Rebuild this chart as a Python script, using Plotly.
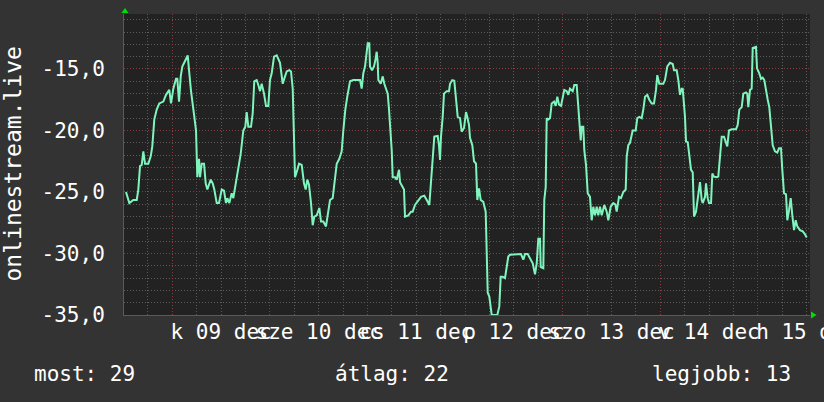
import plotly.graph_objects as go

# hours since 2025-12-09 00:00 (local)
hours = [
    -11.39, -10.57, -9.59, -8.75, -8.36, -7.94, -7.52, -7.13, -6.71, -5.90, -5.31, -4.92, -4.43, -3.84, -3.20,
    -2.21, -1.55, -0.74, -0.32, 0.25, 0.91, 1.23, 1.65, 2.07, 2.46, 3.12, 3.79, 4.11, 4.60, 5.34, 5.83, 6.15,
    6.57, 6.81, 7.23, 7.80, 8.21, 8.61, 9.10, 9.44, 9.93, 10.33, 10.92, 11.48, 12.15, 12.71, 13.20, 13.52, 14.02,
    14.61, 15.00, 15.42, 15.84, 16.23, 16.82, 17.46, 17.95, 18.29, 18.69, 19.35, 19.77, 20.16, 20.75, 21.15,
    21.57, 21.98, 22.55, 23.04, 23.61, 24.02, 24.44, 25.01, 25.67, 26.48, 27.15, 27.71, 28.13, 28.77, 29.19,
    29.61, 29.93, 30.17, 30.74, 31.16, 31.82, 32.38, 32.80, 33.20, 33.61, 34.11, 34.52, 34.92, 35.51, 36.15,
    36.57, 37.13, 37.79, 38.36, 38.78, 39.44, 40.01, 40.43, 41.07, 41.65, 42.05, 42.54, 43.03, 43.70, 44.51,
    46.16, 46.57, 46.97, 47.39, 47.63, 48.05, 48.44, 48.61, 49.11, 49.60, 49.92, 50.26, 50.51, 50.66, 51.25,
    51.74, 52.13, 52.55, 52.97, 53.29, 53.70, 53.95, 54.20, 54.76, 55.18, 55.75, 55.99, 56.56, 56.97, 57.22,
    58.03, 58.70, 59.11, 59.68, 60.34, 61.16, 61.97, 62.39, 62.80, 63.20, 63.54, 64.03, 64.43, 65.26, 65.58,
    65.83, 66.07, 66.49, 66.81, 67.47, 68.04, 68.29, 68.85, 69.34, 69.76, 70.18, 70.75, 71.16, 71.73, 72.22,
    72.54, 72.96, 73.20, 73.77, 74.19, 74.68, 75.00, 75.42, 75.84, 76.47, 77.06, 77.31, 77.56, 77.95, 78.29,
    78.54, 79.92, 80.41, 80.75, 81.24, 81.81, 82.23, 82.62, 83.04, 84.27, 85.75, 86.31, 86.73, 87.39, 87.96,
    88.62, 89.19, 89.61, 90.00, 90.42, 90.59, 91.23, 91.47, 91.82, 92.06, 92.46, 92.88, 93.29, 93.86, 94.28,
    94.67, 95.09, 95.58, 96.00, 96.39, 96.98, 97.38, 97.79, 98.46, 98.85, 99.44, 99.84, 100.25, 100.43, 100.67,
    101.06, 101.31, 101.73, 102.15, 102.71, 103.13, 103.52, 103.94, 104.36, 104.75, 105.17, 105.59, 106.23,
    106.82, 107.21, 107.80, 108.44, 108.93, 109.28, 109.84, 110.34, 110.90, 111.49, 111.74, 112.13, 112.55,
    113.21, 113.95, 114.34, 114.84, 115.42, 115.82, 116.24, 116.80, 117.29, 117.88, 118.45, 118.94, 119.26,
    119.75, 120.74, 121.15, 121.72, 122.38, 123.05, 123.37, 124.03, 124.43, 124.84, 125.26, 125.51, 125.83,
    126.07, 126.32, 126.74, 127.13, 127.55, 127.97, 128.29, 128.78, 129.20, 129.52, 129.76, 130.18, 130.43,
    130.99, 131.24, 131.65, 131.97, 132.47, 132.79, 133.20, 133.87, 134.26, 134.68, 135.10, 135.66, 136.08,
    136.47, 136.89, 137.56, 138.61, 139.03, 139.43, 140.02, 140.41, 141.07, 141.39, 141.64, 142.06, 142.47,
    142.72, 143.29, 143.53, 143.78, 144.34, 144.76, 145.18, 145.57, 145.99, 146.41, 146.80, 147.22, 147.64,
    148.20, 148.77, 149.19, 149.68, 150.00, 150.42, 150.91, 151.23, 151.65, 152.07, 152.46, 152.88, 153.30,
    153.69, 154.35, 155.02, 155.51, 156.00,
]

values = [
    -25.0, -25.9, -25.65, -25.65, -24.8, -22.9, -22.8, -21.7, -22.7, -22.7, -22.1, -21.3, -19.1, -18.3, -17.8,
    -17.65, -17.1, -16.7, -17.8, -16.6, -15.8, -15.8, -17.65, -15.6, -14.8, -14.4, -13.9, -15.1, -16.8, -18.7,
    -20.0, -23.8, -22.3, -23.8, -22.7, -22.7, -24.3, -24.8, -24.4, -24.0, -24.3, -24.8, -25.9, -25.9, -24.8,
    -24.9, -25.9, -25.5, -25.9, -25.1, -25.5, -24.6, -24.0, -22.9, -21.9, -20.0, -19.7, -18.5, -19.7, -19.7,
    -18.6, -16.0, -15.9, -16.3, -16.8, -16.2, -17.0, -18.0, -18.0, -15.9, -15.35, -14.0, -13.9, -14.5, -16.2,
    -15.6, -15.2, -15.1, -15.2, -16.6, -20.0, -23.8, -23.2, -22.7, -22.8, -24.3, -24.8, -24.0, -24.4, -25.9,
    -27.7, -27.0, -26.9, -26.3, -27.4, -27.4, -27.8, -26.5, -25.65, -25.5, -23.8, -22.7, -22.3, -21.7, -20.0,
    -18.3, -17.25, -16.0, -15.9, -15.9, -16.6, -15.35, -14.8, -14.0, -12.9, -12.9, -14.8, -15.1, -14.8, -14.3,
    -13.6, -14.5, -15.9, -16.2, -15.6, -16.2, -16.6, -17.0, -18.3, -20.0, -21.6, -23.8, -23.8, -24.0, -23.2,
    -24.2, -24.6, -24.8, -27.0, -26.9, -26.6, -26.6, -26.05, -25.8, -25.4, -25.3, -25.5, -25.8, -26.05, -24.6,
    -22.1, -20.5, -20.45, -21.2, -22.4, -20.5, -18.9, -17.0, -16.8, -16.8, -16.2, -15.9, -15.95, -17.65, -18.9,
    -19.0, -20.1, -19.8, -18.5, -18.9, -19.55, -20.6, -21.2, -22.5, -22.7, -25.65, -24.7, -25.65, -25.8, -26.6,
    -29.2, -33.2, -33.5, -34.3, -35.0, -35.0, -34.3, -31.9, -31.9, -32.0, -31.1, -30.25, -30.1, -30.05, -30.05,
    -30.5, -30.05, -30.05, -30.4, -30.8, -31.7, -30.8, -28.8, -28.8, -31.1, -31.2, -25.65, -24.6, -19.0, -19.1,
    -19.0, -17.8, -17.65, -18.0, -17.25, -17.9, -18.0, -17.4, -16.7, -16.8, -17.1, -16.6, -16.8, -16.3, -16.3,
    -18.1, -19.8, -20.8, -19.7, -19.7, -21.6, -22.8, -25.1, -25.4, -27.3, -26.2, -26.9, -26.2, -26.9, -26.2,
    -26.9, -26.05, -26.6, -27.3, -26.2, -25.9, -26.0, -26.6, -25.4, -25.5, -25.0, -24.8, -22.1, -21.2, -21.0,
    -20.0, -20.0, -19.0, -18.9, -19.0, -18.3, -17.25, -17.1, -17.5, -17.8, -17.8, -16.7, -15.5, -16.2, -16.2,
    -15.9, -14.8, -14.5, -14.6, -15.1, -15.1, -15.9, -17.1, -16.6, -16.6, -17.9, -18.9, -20.9, -20.95, -22.0,
    -23.2, -23.4, -27.0, -26.6, -25.65, -25.0, -24.2, -25.65, -25.9, -25.4, -24.3, -25.5, -25.9, -25.9, -23.5,
    -23.75, -23.8, -23.75, -22.0, -20.5, -20.5, -20.9, -21.3, -20.0, -19.9, -19.9, -19.55, -18.3, -18.1, -17.0,
    -16.9, -17.0, -18.1, -16.7, -16.6, -13.3, -13.2, -13.2, -14.95, -15.35, -15.8, -15.7, -15.9, -16.8, -17.5,
    -18.1, -19.55, -21.2, -21.7, -21.8, -21.45, -21.45, -23.2, -25.1, -25.2, -27.3, -26.5, -25.5, -26.9, -28.1,
    -27.3, -27.8, -28.1, -28.2, -28.4, -28.7,
]

y_tickvals = [-35, -30, -25, -20, -15]
y_ticktext = ["-35,0", "-30,0", "-25,0", "-20,0", "-15,0"]
day_noons = [12, 36, 60, 84, 108, 132, 156]
day_labels = ["k 09 dec", "sze 10 dec", "cs 11 dec", "p 12 dec", "szo 13 dec", "v 14 dec", "h 15 dec"]
series_name = "onlinestream.live"
summary = ["most: 29", "átlag: 22", "legjobb: 13"]

FONT = "DejaVu Sans Mono"
X_RANGE = [-11.88, 156.81]
Y_RANGE = [-35, -10.53]

# layout geometry (pixels)
W, H = 824, 402
L, R, T, B = 124, 14, 14, 87
PW, PH = W - L - R, H - T - B


def px(x):
    return (x - L) / PW


def py(y):
    return (H - B - y) / PH


fig = go.Figure()
fig.add_trace(go.Scatter(
    x=hours, y=values, mode="lines",
    line=dict(color="#7ff5bd", width=2),
    hoverinfo="skip", showlegend=False,
))

fig.update_layout(
    width=W, height=H,
    margin=dict(l=L, r=R, t=T, b=B, autoexpand=False),
    paper_bgcolor="#333333",
    plot_bgcolor="#222222",
    font=dict(family=FONT, color="#ffffff", size=21),
    showlegend=False,
    xaxis=dict(
        range=X_RANGE, tickmode="linear", tick0=0, dtick=24,
        showticklabels=False, ticks="",
        showgrid=True, gridcolor="#8a3c3c", griddash="1px,2px", gridwidth=1,
        minor=dict(tickmode="linear", tick0=0, dtick=6, showgrid=True,
                   gridcolor="#5c5c5c", griddash="1px,2px", gridwidth=1),
        zeroline=False, showline=True, linecolor="#5a5a5a", linewidth=1,
    ),
    xaxis2=dict(
        overlaying="x", matches="x", range=X_RANGE, side="bottom",
        tickmode="array", tickvals=day_noons, ticktext=day_labels,
        tickangle=0, ticks="", ticklabelstandoff=2, ticklabeloverflow="allow",
        showgrid=False, zeroline=False,
        tickfont=dict(family=FONT, size=21, color="#ffffff"),
    ),
    yaxis=dict(
        range=Y_RANGE, tickmode="array", tickvals=y_tickvals, ticktext=y_ticktext,
        ticks="", ticklabelstandoff=14,
        tickfont=dict(family=FONT, size=21, color="#ffffff"),
        showgrid=True, gridcolor="#8a3c3c", griddash="1px,2px", gridwidth=1,
        minor=dict(tickmode="linear", tick0=-35, dtick=1, showgrid=True,
                   gridcolor="#5c5c5c", griddash="1px,2px", gridwidth=1),
        zeroline=False, showline=True, linecolor="#5a5a5a", linewidth=1,
    ),
)

# dummy invisible trace so the label axis renders
fig.add_trace(go.Scatter(x=[X_RANGE[0]], y=[Y_RANGE[0]], xaxis="x2", mode="markers",
                         marker=dict(opacity=0), hoverinfo="skip", showlegend=False))

# rotated series title
fig.add_annotation(text=series_name, xref="paper", yref="paper",
                   x=px(12), y=0.5, textangle=-90, showarrow=False,
                   xanchor="center", yanchor="middle",
                   font=dict(family=FONT, size=23, color="#ffffff"))

# summary line
fig.add_annotation(text=summary[0], xref="paper", yref="paper", x=px(32), y=py(374),
                   xanchor="left", yanchor="middle", showarrow=False)
fig.add_annotation(text=summary[1], xref="paper", yref="paper", x=px(333), y=py(374),
                   xanchor="left", yanchor="middle", showarrow=False)
fig.add_annotation(text=summary[2], xref="paper", yref="paper", x=px(793), y=py(374),
                   xanchor="right", yanchor="middle", showarrow=False)

# axis arrows
up = f"M {px(121.5)} {py(13)} L {px(128.5)} {py(13)} L {px(125)} {py(8)} Z"
right = f"M {px(811)} {py(311.5)} L {px(811)} {py(318.5)} L {px(816.5)} {py(315)} Z"
for p in (up, right):
    fig.add_shape(type="path", path=p, xref="paper", yref="paper",
                  fillcolor="#00e000", line=dict(width=0), layer="above")

fig.write_html(
    "out.html",
    config={"displayModeBar": False},
    post_script="document.body.style.margin='0';document.body.style.padding='0';"
                "document.body.style.overflow='hidden';document.body.style.background='#333333';",
)
